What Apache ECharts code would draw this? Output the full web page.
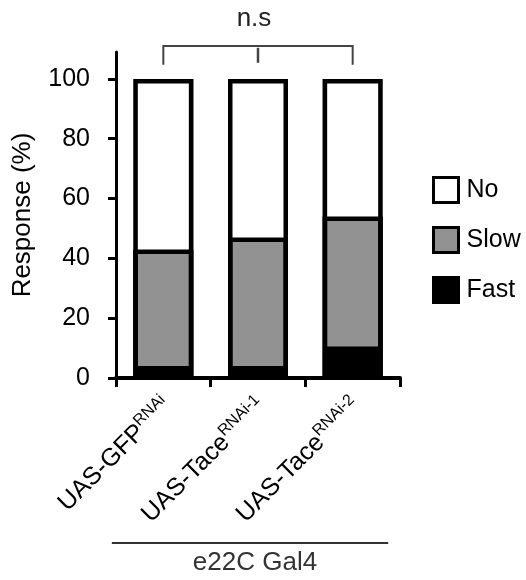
<!DOCTYPE html>
<html><head><meta charset="utf-8">
<script src="https://cdn.jsdelivr.net/npm/echarts@6/dist/echarts.min.js"></script>
<style>html,body{margin:0;padding:0;background:#fff}#c{width:526px;height:580px}</style>
</head><body><div id="c"></div>
<script>
var genotypes = ['UAS-GFP', 'UAS-Tace', 'UAS-Tace'];
var superscripts = ['RNAi', 'RNAi-1', 'RNAi-2'];
var fast = [2.5, 2.5, 9];
var slow = [40.5, 44.5, 45];
var no = [57, 53, 46];
var yTicks = [0, 20, 40, 60, 80, 100];
var driverLabel = 'e22C Gal4';
var sigLabel = 'n.s';

var FONT = '"Liberation Sans", Arial, Helvetica, sans-serif';
var cats = genotypes.map(function (g, i) { return String(i); });
var totals = fast.map(function (f, i) { return f + slow[i] + no[i]; });
var chart = echarts.init(document.getElementById('c'));
var BW = 60;
var option = {
  animation: false,
  textStyle: { fontFamily: FONT },
  grid: { left: 116, right: 126, top: 52, bottom: 202, containLabel: false },
  legend: {
    data: ['No', 'Slow', 'Fast'],
    orient: 'vertical', left: 427, top: 171,
    icon: 'rect',
    itemWidth: 25, itemHeight: 25, itemGap: 22,
    selectedMode: false,
    textStyle: { fontSize: 25, color: '#000', fontFamily: FONT, padding: [0, 0, 0, 3] },
    itemStyle: { borderColor: '#000', borderWidth: 3 }
  },
  xAxis: {
    type: 'category', data: cats,
    axisLine: { lineStyle: { color: '#000', width: 4 } },
    axisTick: { show: true, length: 9, inside: false, lineStyle: { color: '#000', width: 3 } },
    axisLabel: {
      rotate: 45, margin: 20, interval: 0, padding: [12, 0, 0, 0],
      formatter: function (v) { var i = +v; return '{m|' + genotypes[i] + '}{s|' + superscripts[i] + '}'; },
      rich: {
        m: { fontSize: 25, color: '#000', fontFamily: FONT, lineHeight: 30 },
        s: { fontSize: 16, color: '#000', fontFamily: FONT, verticalAlign: 'top', lineHeight: 16 }
      }
    }
  },
  yAxis: {
    type: 'value', min: 0, max: 109, interval: 20,
    name: 'Response (%)', nameLocation: 'middle', nameGap: 80,
    nameTextStyle: { fontSize: 26, color: '#000', fontFamily: FONT },
    splitLine: { show: false },
    axisLine: { show: true, lineStyle: { color: '#000', width: 3 } },
    axisTick: { show: true, length: 8, customValues: yTicks, lineStyle: { color: '#000', width: 3 } },
    axisLabel: { fontSize: 25, color: '#000', margin: 26, customValues: yTicks, fontFamily: FONT }
  },
  series: [
    { name: 'backing', type: 'bar', stack: 'b', data: totals, barWidth: BW, barGap: '-100%', z: 1, silent: true,
      itemStyle: { color: '#000', borderWidth: 0 } },
    { name: 'Fast', type: 'bar', stack: 's', data: fast, barWidth: BW, barGap: '-100%', itemStyle: { color: '#000', borderWidth: 0 } },
    { name: 'Slow', type: 'bar', stack: 's', data: slow, barWidth: BW, barGap: '-100%', itemStyle: { color: '#929292', borderColor: '#000', borderWidth: 4.5 } },
    { name: 'No', type: 'bar', stack: 's', data: no, barWidth: BW, barGap: '-100%', itemStyle: { color: '#ffffff', borderWidth: 0 } },
    { name: 'outline', type: 'bar', stack: 'o', data: totals, barWidth: BW, barGap: '-100%', z: 3,
      itemStyle: { color: 'rgba(0,0,0,0)', borderColor: '#000', borderWidth: 4.5 }, silent: true }
  ]
};
chart.setOption(option);

function px(ci, v) { return chart.convertToPixel({ gridIndex: 0 }, [ci, v]); }
var pL = px(0, 111), pR = px(2, 111), pM = px(1, 111);
var tickBot = px(0, 104.7)[1], midTop = px(1, 110.4)[1], midBot = px(1, 105.4)[1];
var gridLeft = px(0, 0)[0] - 47.5, gridRight = px(2, 0)[0] + 47.5;
var g = [
  { type: 'polyline', shape: { points: [[pL[0], tickBot], [pL[0], pL[1]], [pR[0], pR[1]], [pR[0], tickBot]] },
    style: { stroke: '#444', lineWidth: 2, fill: null } },
  { type: 'line', shape: { x1: pM[0], y1: midTop, x2: pM[0], y2: midBot }, style: { stroke: '#444', lineWidth: 2.5 } },
  { type: 'text', x: pM[0] - 4, y: px(1, 120)[1], style: { text: sigLabel, font: '26px ' + FONT, fill: '#222', align: 'center', verticalAlign: 'middle' } },
  { type: 'line', shape: { x1: gridLeft - 4, y1: 543, x2: gridRight - 12, y2: 543 }, style: { stroke: '#333', lineWidth: 2 } },
  { type: 'text', x: pM[0] - 3, y: 563, style: { text: driverLabel, font: '26px ' + FONT, fill: '#333', align: 'center', verticalAlign: 'middle' } }
];
chart.setOption({ graphic: g });
</script></body></html>
